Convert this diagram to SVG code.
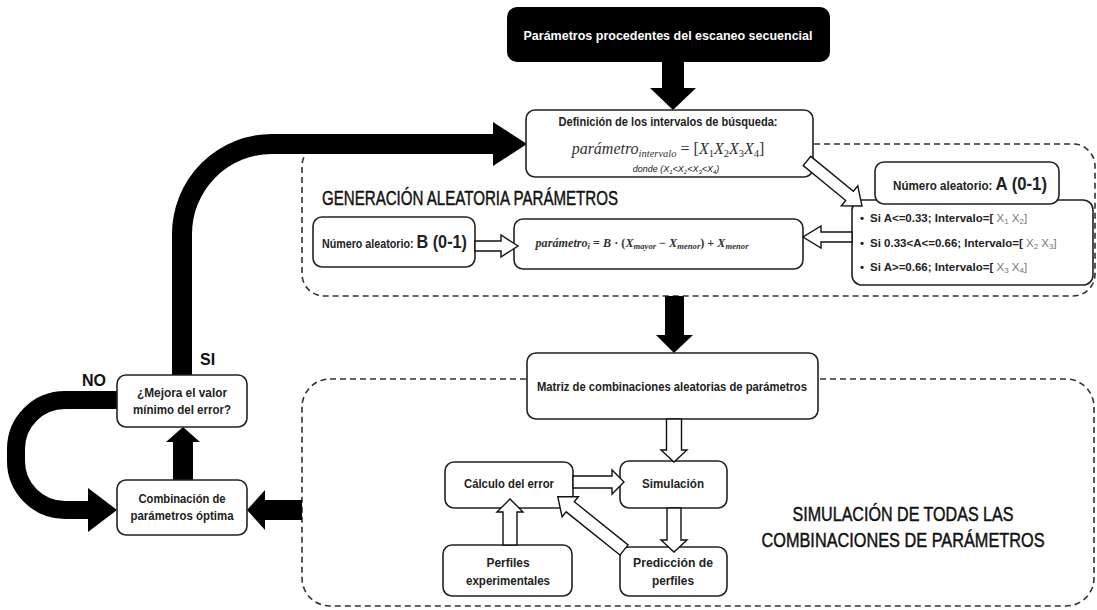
<svg xmlns="http://www.w3.org/2000/svg" width="1097" height="610" viewBox="0 0 1097 610">
  <style>
    .box { fill: #fff; stroke: #222; stroke-width: 1.6; }
    .dash { fill: none; stroke: #333; stroke-width: 1.6; stroke-dasharray: 6 4; }
    .thick { fill: none; stroke: #000; stroke-width: 20; }
    .solid { fill: #000; stroke: none; }
    .open { fill: #fff; stroke: #111; stroke-width: 1.4; stroke-linejoin: miter; }
    .t { font-family: "Liberation Sans", Arial, sans-serif; font-weight: bold; fill: #222; font-size: 12.5px; }
    .big { font-family: "Liberation Sans", Arial, sans-serif; fill: #111; stroke: #111; stroke-width: 0.45; font-size: 20px; }
    .li { font-family: "Liberation Sans", Arial, sans-serif; font-weight: bold; fill: #222; font-size: 11.5px; }
    .gx { font-weight: normal; fill: #777; }
    .math { font-family: "Liberation Serif", "Times New Roman", serif; font-style: italic; fill: #333; }
  </style>

  <!-- dashed group frames -->
  <g id="frames">
    <rect class="dash" x="302" y="144" width="793" height="152" rx="22"/>
    <rect class="dash" x="302" y="379" width="792" height="227" rx="28"/>
  </g>

  <!-- connectors -->
  <g id="connectors">
    <!-- start -> interval definition -->
    <rect class="solid" x="662" y="62" width="22" height="27"/>
    <polygon class="solid" points="650,88 696,88 673,110"/>
    <!-- SI loop back to interval definition -->
    <path class="thick" d="M182 375 V234 A90 90 0 0 1 272 144 H494"/>
    <polygon class="solid" points="493,122 527,144 493,166"/>
    <!-- NO loop back to optimum combination -->
    <path class="thick" d="M117 400 H65 A49 49 0 0 0 16 449 V461 A49 49 0 0 0 65 510 H90" style="stroke-width:18"/>
    <polygon class="solid" points="88,488 117,510 88,532"/>
    <!-- optimum combination -> improvement check -->
    <rect class="solid" x="173" y="441" width="20" height="40"/>
    <polygon class="solid" points="166,442 200,442 183,427"/>
    <!-- simulation frame -> optimum combination -->
    <rect class="solid" x="264" y="500" width="38" height="20"/>
    <polygon class="solid" points="265,490 265,530 247,510"/>
    <!-- generation frame -> combination matrix -->
    <rect class="solid" x="665" y="296" width="19" height="40"/>
    <polygon class="solid" points="656,335 693,335 674,353"/>
  </g>

  <!-- nodes -->
  <g id="start">
    <rect x="507" y="7" width="323" height="55" rx="10" fill="#000"/>
    <text class="t" x="668" y="40" text-anchor="middle" style="fill:#fff;font-size:13.5px" textLength="289" lengthAdjust="spacingAndGlyphs">Parámetros procedentes del escaneo secuencial</text>
  </g>

  <g id="interval-definition">
    <rect class="box" x="526" y="110" width="287" height="67" rx="9"/>
    <text class="t" x="668" y="126" text-anchor="middle" style="font-size:13px" textLength="219" lengthAdjust="spacingAndGlyphs">Definición de los intervalos de búsqueda:</text>
    <text class="math" x="668" y="154" text-anchor="middle" font-size="16">parámetro<tspan font-size="10.5" dy="3">intervalo</tspan><tspan dy="-3" font-style="normal"> = [</tspan>X<tspan font-size="10.5" dy="3" font-style="normal">1</tspan><tspan dy="-3">X</tspan><tspan font-size="10.5" dy="3" font-style="normal">2</tspan><tspan dy="-3">X</tspan><tspan font-size="10.5" dy="3" font-style="normal">3</tspan><tspan dy="-3">X</tspan><tspan font-size="10.5" dy="3" font-style="normal">4</tspan><tspan dy="-3" font-style="normal">]</tspan></text>
    <text class="t" x="676" y="172" text-anchor="middle" font-style="italic" style="font-size:9px;font-weight:normal">donde (X<tspan font-size="6" dy="2">1</tspan><tspan dy="-2">&lt;X</tspan><tspan font-size="6" dy="2">2</tspan><tspan dy="-2">&lt;X</tspan><tspan font-size="6" dy="2">3</tspan><tspan dy="-2">&lt;X</tspan><tspan font-size="6" dy="2">4</tspan><tspan dy="-2">)</tspan></text>
  </g>

  <g id="generation-title">
    <text class="big" x="322" y="205" textLength="296" lengthAdjust="spacingAndGlyphs">GENERACIÓN ALEATORIA PARÁMETROS</text>
  </g>

  <g id="random-a-cases">
    <rect class="box" x="852" y="200" width="241" height="85" rx="10"/>
    <text class="li" x="860" y="222">•</text>
    <text class="li" x="870" y="222">Si A&lt;=0.33; Intervalo=[<tspan class="gx"> X<tspan font-size="8" dy="2">1</tspan><tspan dy="-2"> X</tspan><tspan font-size="8" dy="2">2</tspan><tspan dy="-2">]</tspan></tspan></text>
    <text class="li" x="860" y="247">•</text>
    <text class="li" x="870" y="247">Si 0.33&lt;A&lt;=0.66; Intervalo=[<tspan class="gx"> X<tspan font-size="8" dy="2">2</tspan><tspan dy="-2"> X</tspan><tspan font-size="8" dy="2">3</tspan><tspan dy="-2">]</tspan></tspan></text>
    <text class="li" x="860" y="271">•</text>
    <text class="li" x="870" y="271">Si A&gt;=0.66; Intervalo=[<tspan class="gx"> X<tspan font-size="8" dy="2">3</tspan><tspan dy="-2"> X</tspan><tspan font-size="8" dy="2">4</tspan><tspan dy="-2">]</tspan></tspan></text>
  </g>

  <g id="random-a">
    <rect class="box" x="875" y="162" width="184" height="42" rx="9"/>
    <text class="t" x="893" y="190" textLength="154" lengthAdjust="spacingAndGlyphs">Número aleatorio: <tspan style="font-size:18px">A (0-1)</tspan></text>
  </g>

  <g id="random-b">
    <rect class="box" x="313" y="217" width="162" height="50" rx="9"/>
    <text class="t" x="322" y="248" textLength="145" lengthAdjust="spacingAndGlyphs">Número aleatorio: <tspan style="font-size:19px">B (0-1)</tspan></text>
  </g>

  <g id="parameter-formula">
    <rect class="box" x="514" y="219" width="289" height="50" rx="9"/>
    <text class="math" x="642" y="247" text-anchor="middle" font-size="12" font-weight="bold" textLength="213" lengthAdjust="spacingAndGlyphs">parámetro<tspan font-size="8.5" dy="2">i</tspan><tspan dy="-2" font-style="normal"> = </tspan>B<tspan font-style="normal"> · (</tspan>X<tspan font-size="8.5" dy="2">mayor</tspan><tspan dy="-2" font-style="normal"> − </tspan>X<tspan font-size="8.5" dy="2">menor</tspan><tspan dy="-2" font-style="normal">) + </tspan>X<tspan font-size="8.5" dy="2">menor</tspan></text>
  </g>

  <g id="combination-matrix">
    <rect class="box" x="527" y="353" width="291" height="66" rx="9"/>
    <text class="t" x="672" y="391" text-anchor="middle" style="font-size:13px" textLength="270" lengthAdjust="spacingAndGlyphs">Matriz de combinaciones aleatorias de parámetros</text>
  </g>

  <g id="error-calc">
    <rect class="box" x="445" y="462" width="128" height="46" rx="9"/>
    <text class="t" x="509" y="488" text-anchor="middle" textLength="90" lengthAdjust="spacingAndGlyphs">Cálculo del error</text>
  </g>

  <g id="simulation">
    <rect class="box" x="620" y="461" width="107" height="47" rx="9"/>
    <text class="t" x="673" y="488" text-anchor="middle" textLength="62" lengthAdjust="spacingAndGlyphs">Simulación</text>
  </g>

  <g id="experimental-profiles">
    <rect class="box" x="443" y="545" width="129" height="51" rx="9"/>
    <text class="t" x="508" y="567" text-anchor="middle" textLength="43" lengthAdjust="spacingAndGlyphs">Perfiles</text>
    <text class="t" x="508" y="585" text-anchor="middle" textLength="84" lengthAdjust="spacingAndGlyphs">experimentales</text>
  </g>

  <g id="profile-prediction">
    <rect class="box" x="620" y="547" width="107" height="49" rx="9"/>
    <text class="t" x="673" y="567" text-anchor="middle" textLength="80" lengthAdjust="spacingAndGlyphs">Predicción de</text>
    <text class="t" x="673" y="585" text-anchor="middle" textLength="42" lengthAdjust="spacingAndGlyphs">perfiles</text>
  </g>

  <g id="simulation-title">
    <text class="big" x="903" y="521" text-anchor="middle" textLength="221" lengthAdjust="spacingAndGlyphs">SIMULACIÓN DE TODAS LAS</text>
    <text class="big" x="903" y="547" text-anchor="middle" textLength="283" lengthAdjust="spacingAndGlyphs">COMBINACIONES DE PARÁMETROS</text>
  </g>

  <g id="improvement-check">
    <rect class="box" x="117" y="375" width="130" height="52" rx="9"/>
    <text class="t" x="182" y="397" text-anchor="middle" textLength="90" lengthAdjust="spacingAndGlyphs">¿Mejora el valor</text>
    <text class="t" x="182" y="414" text-anchor="middle" textLength="98" lengthAdjust="spacingAndGlyphs">mínimo del error?</text>
  </g>

  <g id="optimum-combination">
    <rect class="box" x="117" y="480" width="130" height="55" rx="9"/>
    <text class="t" x="182" y="503" text-anchor="middle" textLength="87" lengthAdjust="spacingAndGlyphs">Combinación de</text>
    <text class="t" x="182" y="520" text-anchor="middle" textLength="103" lengthAdjust="spacingAndGlyphs">parámetros óptima</text>
  </g>

  <!-- outlined flow arrows -->
  <g id="open-connectors">
    <polygon class="open" transform="translate(807,161) rotate(39.3)" points="0,-6 55,-6 55,-13 71,0 55,13 55,6 0,6"/>
    <polygon class="open" points="852,232 821,232 821,226 803,237 821,248 821,242 852,242"/>
    <polygon class="open" points="475,241 501,241 501,235 518,246 501,257 501,251 475,251"/>
    <polygon class="open" points="666.5,419 666.5,450 661,450 674,462 687,450 681.5,450 681.5,419"/>
    <polygon class="open" points="573,476 612,476 612,470 624,482 612,494 612,488 573,488"/>
    <polygon class="open" points="667,508 667,540 661,540 674,552 687,540 681,540 681,508"/>
    <polygon class="open" points="503,545 503,512 497,512 510,499 523,512 517,512 517,545"/>
    <polygon class="open" transform="translate(624,550) rotate(218.8)" points="0,-6.5 69,-6.5 69,-13 85,0 69,13 69,6.5 0,6.5"/>
  </g>

  <g id="branch-labels">
    <text class="t" x="200" y="365" style="font-size:16px;fill:#111">SI</text>
    <text class="t" x="82" y="386" style="font-size:16px;fill:#111">NO</text>
  </g>
</svg>
